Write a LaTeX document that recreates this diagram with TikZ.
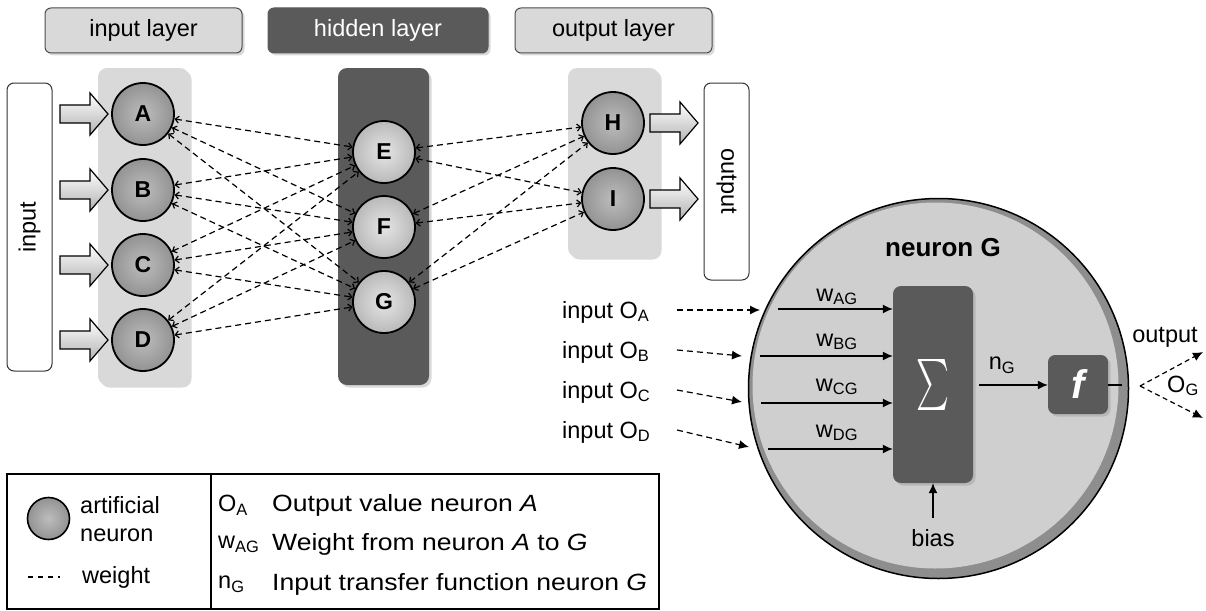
\documentclass[tikz,border=0pt]{standalone}
\usepackage{fontspec}
\usepackage{graphicx}
\setmainfont{Liberation Sans}
\newfontfamily\widefont[FakeStretch=1.13]{Liberation Sans}
\usetikzlibrary{arrows.meta,shadows,calc}
\definecolor{lg}{HTML}{D9D9D9}
\definecolor{dg}{HTML}{5A5A5A}
\definecolor{rimc}{HTML}{8E8E8E}
\definecolor{innerc}{HTML}{CFCFCF}
\begin{document}
\begin{tikzpicture}[x=1pt,y=-1pt,
  shd/.style={drop shadow={shadow xshift=2.5pt,shadow yshift=-2.5pt,opacity=0.3}},
  hdr/.style={draw=black!70,line width=1pt,rounded corners=6pt,minimum width=197pt,minimum height=45pt,inner sep=0pt,font=\fontsize{23.5}{23.5}\selectfont,shd},
  col/.style={rounded corners=9pt,minimum width=91pt,inner sep=0pt,shd},
  iobox/.style={draw=black!80,line width=1pt,rounded corners=7pt,minimum height=45pt,inner sep=0pt,font=\fontsize{23.5}{23.5}\selectfont,fill=white},
  neuronin/.style={circle,draw,line width=1.8pt,minimum size=62pt,inner sep=0pt,font=\bfseries\fontsize{23}{23}\selectfont,inner color=gray!52,outer color=gray!85},
  neuronhid/.style={circle,draw,line width=1.8pt,minimum size=62pt,inner sep=0pt,font=\bfseries\fontsize{23}{23}\selectfont,inner color=gray!20,outer color=gray!55},
  conn/.style={dashed,dash pattern=on 6pt off 4pt,line width=1.2pt,{Straight Barb[length=3.5pt,width=7pt]}-{Straight Barb[length=3.5pt,width=7pt]}},
  txt/.style={inner sep=0pt,font=\fontsize{23.5}{23.5}\selectfont},
  wtxt/.style={inner sep=0pt,font=\widefont\fontsize{23.5}{23.5}\selectfont},
  solidarr/.style={line width=1.2pt,-{Latex[length=10pt,width=9pt]}},
  dasharr/.style={line width=1.2pt,dashed,dash pattern=on 6pt off 4pt,-{Latex[length=10pt,width=9pt]}},
  blockarrow/.pic={\draw[line width=1.2pt,top color=white,bottom color=gray!60] (0,-9) -- (30,-9) -- (30,-21) -- (48,0) -- (30,21) -- (30,9) -- (0,9) -- cycle;}
]
\useasboundingbox (0,0) rectangle (1206,610);

% headers
\node[hdr,fill=lg] (hin) at (143.5,30.5) {input layer};
\node[hdr,fill=dg,draw=dg,text=white,minimum width=220pt] (hhid) at (378,30.5) {hidden layer};
\node[hdr,fill=lg] (hout) at (613.5,30.5) {output layer};

% columns
\node[col,fill=lg,minimum height=317pt] (incol) at (143.5,226.5) {};
\node[col,fill=dg,minimum height=317pt] (hidcol) at (383.5,226.5) {};
\node[col,fill=lg,minimum height=189pt] (outcol) at (613.5,162.5) {};

% input / output boxes
\node[iobox,minimum width=288pt,rotate=90] (inbox) at (29.5,227) {input};
\node[iobox,minimum width=197pt,rotate=-90] (outbox) at (726.5,181.5) {output};

% block arrows
\foreach \yy in {114,190,265,340} {\pic at (60,\yy) {blockarrow};}
\foreach \yy in {123,199} {\pic at (650,\yy) {blockarrow};}

% neurons
\node[neuronin] (A) at (143,114) {A};
\node[neuronin] (B) at (143,190) {B};
\node[neuronin] (C) at (143,265) {C};
\node[neuronin] (D) at (143,340) {D};
\node[neuronhid] (E) at (384,152) {E};
\node[neuronhid] (F) at (384,227) {F};
\node[neuronhid] (G) at (384,302) {G};
\node[neuronin] (H) at (613,123) {H};
\node[neuronin] (I) at (613,199) {I};

\foreach \s in {A,B,C,D} {\foreach \t in {E,F,G} {\draw[conn] (\s) -- (\t);}}
\foreach \s in {E,F,G} {\foreach \t in {H,I} {\draw[conn] (\s) -- (\t);}}

% big neuron G
\draw[line width=1.5pt,fill=rimc] (938.5,388.5) circle [radius=190];
\fill[innerc] (935.5,385.5) circle [radius=183];
\node[inner sep=0pt,font=\bfseries\fontsize{26}{26}\selectfont] (ng) at (943,248) {neuron G};

\node[fill=dg,rounded corners=8pt,minimum width=80pt,minimum height=197pt,inner sep=0pt,text=white,shd] (sum) at (933,384.5) {\resizebox*{33pt}{51pt}{$\sum$}};
\node[fill=dg,rounded corners=7pt,minimum width=60pt,minimum height=59pt,inner sep=0pt,text=white,shd] (f) at (1078,384.5) {\fontsize{40}{40}\selectfont\bfseries\itshape f};

% inputs
\node[txt,anchor=west] (iA) at (562,312) {input O\textsubscript{A}};
\node[txt,anchor=west] (iB) at (562,352) {input O\textsubscript{B}};
\node[txt,anchor=west] (iC) at (562,392) {input O\textsubscript{C}};
\node[txt,anchor=west] (iD) at (562,432) {input O\textsubscript{D}};

\coordinate (sA) at (677,310); \coordinate (eA) at (760,310);
\coordinate (sB) at (677,350); \coordinate (eB) at (742,356);
\coordinate (sC) at (677,390); \coordinate (eC) at (742,402);
\coordinate (sD) at (677,430); \coordinate (eD) at (749,447);
\draw[dasharr] (sA) -- (eA);
\draw[dasharr] (sB) -- (eB);
\draw[dasharr] (sC) -- (eC);
\draw[dasharr] (sD) -- (eD);

\coordinate (wa) at (778,309);
\coordinate (wb) at (760,356);
\coordinate (wc) at (761,403);
\coordinate (wd) at (768,449);
\draw[solidarr] (wa) -- (wa -| sum.west);
\draw[solidarr] (wb) -- (wb -| sum.west);
\draw[solidarr] (wc) -- (wc -| sum.west);
\draw[solidarr] (wd) -- (wd -| sum.west);
\node[txt] (lwa) at (837,297) {w\textsubscript{AG}};
\node[txt] (lwb) at (837,342) {w\textsubscript{BG}};
\node[txt] (lwc) at (837,387) {w\textsubscript{CG}};
\node[txt] (lwd) at (837,433) {w\textsubscript{DG}};

% n_G
\coordinate (ns) at (979,385);
\draw[solidarr] (ns) -- (ns -| f.west);
\node[txt] (lng) at (1002,365) {n\textsubscript{G}};

% bias
\coordinate (bt) at (933,518);
\draw[solidarr] (bt) -- (sum.south);
\node[txt] (lbias) at (933,538) {bias};

% output of G
\coordinate (fo) at (1122,385);
\draw[line width=1.2pt] (f.east |- fo) -- (fo);
\coordinate (og) at (1140,386);
\coordinate (o1) at (1203,352);
\coordinate (o2) at (1203,418);
\draw[dasharr,dash pattern=on 5pt off 3.5pt] (og) -- (o1);
\draw[dasharr,dash pattern=on 5pt off 3.5pt] (og) -- (o2);
\node[txt] (lout) at (1165,337) {output};
\node[txt] (log) at (1183,386) {O\textsubscript{G}};

% legend
\draw[line width=1.3pt] (7,474) rectangle (659,609);
\draw[line width=1.3pt] (211,474) -- (211,609);
\node[circle,draw,line width=1.6pt,minimum size=42pt,inner sep=0pt,inner color=gray!52,outer color=gray!85] (leg) at (48.5,518.5) {};
\node[txt,anchor=west] (l1) at (80,505) {artificial};
\node[txt,anchor=west] (l2) at (80,535) {neuron};
\coordinate (wl1) at (28,577); \coordinate (wl2) at (60,577);
\draw[line width=1.1pt,dashed,dash pattern=on 5pt off 5pt] (wl1) -- (wl2);
\node[txt,anchor=west] (l3) at (82,577) {weight};
\node[txt,anchor=west] (r1) at (218,505) {O\textsubscript{A}};
\node[txt,anchor=west] (r2) at (218,544) {w\textsubscript{AG}};
\node[txt,anchor=west] (r3) at (218,584) {n\textsubscript{G}};
\node[wtxt,anchor=west] (t1) at (272,505) {Output value neuron \textit{A}};
\node[wtxt,anchor=west] (t2) at (272,544) {Weight from neuron \textit{A} to \textit{G}};
\node[wtxt,anchor=west] (t3) at (272,584) {Input transfer function neuron \textit{G}};
\end{tikzpicture}
\end{document}
